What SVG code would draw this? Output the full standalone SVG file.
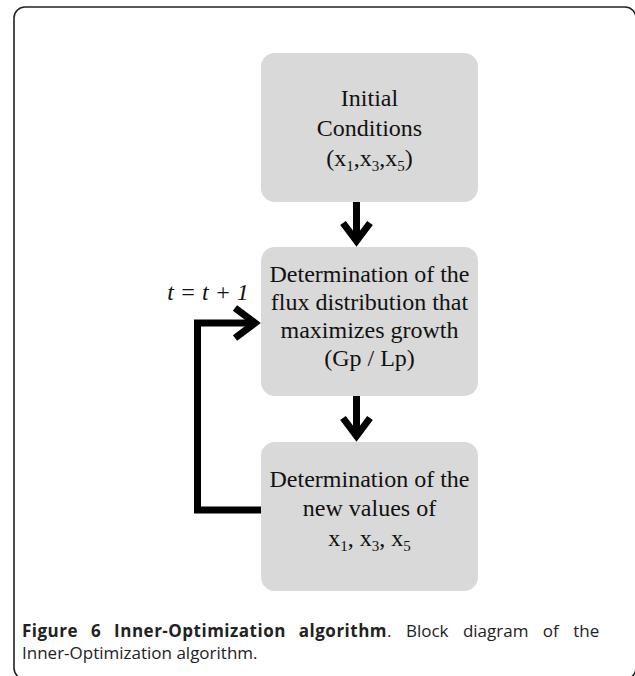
<svg xmlns="http://www.w3.org/2000/svg" width="635" height="676" viewBox="0 0 635 676">
<style>
.box{fill:#d9d9d9}
.t{font-family:"Liberation Serif","Times New Roman",serif;font-size:24px;fill:#111;text-anchor:middle}
.cap{font-family:"Open Sans","Noto Sans",sans-serif;font-size:17px;fill:#222}
.c{fill:none;stroke:#000;stroke-width:7;stroke-linejoin:miter;stroke-miterlimit:10}
</style>
<rect x="14" y="7" width="622" height="672" rx="11" fill="#fff" stroke="#222" stroke-width="1.6"/>
<g id="initial">
<rect class="box" x="261" y="53" width="217" height="149" rx="14"/>
<text class="t" x="369.5" y="106">Initial</text>
<text class="t" x="369.5" y="136">Conditions</text>
<text class="t" x="369.5" y="166">(x<tspan font-size="15" dy="5">1</tspan><tspan dy="-5">,x</tspan><tspan font-size="15" dy="5">3</tspan><tspan dy="-5">,x</tspan><tspan font-size="15" dy="5">5</tspan><tspan dy="-5">)</tspan></text>
</g>
<g id="flux">
<rect class="box" x="261" y="247" width="217" height="149" rx="14"/>
<text class="t" x="369.5" y="282">Determination of the</text>
<text class="t" x="369.5" y="310">flux distribution that</text>
<text class="t" x="369.5" y="338">maximizes growth</text>
<text class="t" x="369.5" y="366">(Gp / Lp)</text>
</g>
<g id="newvalues">
<rect class="box" x="261" y="442" width="217" height="149" rx="14"/>
<text class="t" x="369.5" y="487">Determination of the</text>
<text class="t" x="369.5" y="516">new values of</text>
<text class="t" x="369.5" y="546">x<tspan font-size="15" dy="5">1</tspan><tspan dy="-5">, x</tspan><tspan font-size="15" dy="5">3</tspan><tspan dy="-5">, x</tspan><tspan font-size="15" dy="5">5</tspan></text>
</g>
<g id="connectors">
<path class="c" d="M356.5 202 V238"/>
<polyline class="c" points="343,223 356.5,241 370,223"/>
<path class="c" d="M356.5 396 V433"/>
<polyline class="c" points="343,418 356.5,436 370,418"/>
<path class="c" d="M261 510 H197.5 V323 H254"/>
<polyline class="c" points="235,308 255,323 235,338"/>
</g>
<text x="208" y="300" font-family="Liberation Serif,serif" font-style="italic" font-size="24" fill="#111" text-anchor="middle">t = t + 1</text>
<text class="cap" x="22" y="637"><tspan font-weight="bold" letter-spacing="0.5" word-spacing="8">Figure 6 Inner-Optimization algorithm</tspan><tspan word-spacing="10">. Block diagram of the</tspan></text>
<text class="cap" x="22" y="659">Inner-Optimization algorithm.</text>
</svg>
